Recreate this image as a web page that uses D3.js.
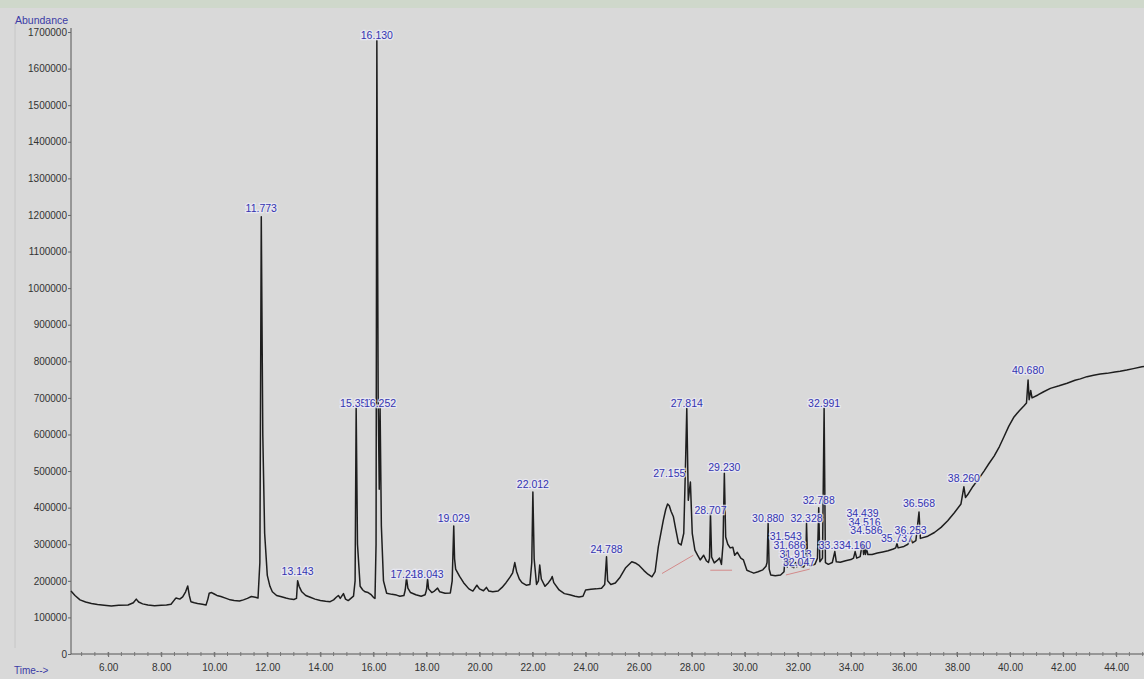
<!DOCTYPE html>
<html>
<head>
<meta charset="utf-8">
<script src="https://cdn.jsdelivr.net/npm/d3@7"></script>
<style>
  body { margin: 0; background: #d9d9d9; }
  svg { display: block; font-family: "Liberation Sans", Arial, sans-serif; }
</style>
</head>
<body>
<svg id="chart" width="1144" height="679"></svg>
<script>
// total ion chromatogram: [time (min), abundance]
const tic = [
  [4.60, 172000], [4.75, 160000], [4.94, 148000], [5.15, 142000], [5.37, 138000],
  [5.60, 135000], [5.85, 133000], [6.12, 131000], [6.40, 133000], [6.75, 134000],
  [6.95, 140000], [7.06, 150000], [7.15, 142000], [7.30, 137000], [7.50, 134000],
  [7.75, 132000], [8.00, 133000], [8.20, 134000], [8.37, 136000], [8.50, 148000],
  [8.56, 153000], [8.70, 150000], [8.81, 156000], [8.92, 170000], [9.00, 186000],
  [9.06, 160000], [9.12, 143000], [9.25, 140000], [9.37, 138000], [9.55, 136000],
  [9.69, 134000], [9.76, 150000], [9.81, 166000], [9.90, 168000], [10.00, 164000],
  [10.10, 160000], [10.25, 157000], [10.45, 152000], [10.60, 148000], [10.75, 146000],
  [10.95, 145000], [11.10, 148000], [11.25, 152000], [11.40, 157000], [11.55, 155000],
  [11.65, 153000], [11.72, 250000], [11.773, 1195000], [11.83, 600000], [11.90, 330000],
  [12.00, 215000], [12.10, 185000], [12.19, 170000], [12.35, 160000], [12.50, 157000],
  [12.70, 153000], [12.87, 150000], [13.00, 149000], [13.10, 152000], [13.143, 200000],
  [13.20, 185000], [13.30, 170000], [13.45, 160000], [13.62, 155000], [13.80, 150000],
  [14.00, 146000], [14.20, 144000], [14.37, 143000], [14.50, 148000], [14.60, 155000],
  [14.68, 160000], [14.75, 152000], [14.87, 165000], [14.95, 150000], [15.05, 146000],
  [15.15, 152000], [15.25, 158000], [15.31, 200000], [15.35, 672000], [15.40, 300000],
  [15.50, 185000], [15.60, 175000], [15.69, 170000], [15.80, 168000], [15.90, 163000],
  [16.00, 155000], [16.06, 152000], [16.10, 300000], [16.13, 1677000], [16.18, 700000],
  [16.22, 450000], [16.252, 672000], [16.30, 350000], [16.38, 200000], [16.50, 166000],
  [16.70, 163000], [16.87, 161000], [17.00, 158000], [17.15, 160000], [17.20, 175000],
  [17.248, 208000], [17.30, 180000], [17.40, 168000], [17.60, 162000], [17.80, 158000],
  [17.95, 162000], [18.00, 175000], [18.043, 205000], [18.08, 178000], [18.20, 168000],
  [18.30, 172000], [18.42, 180000], [18.50, 170000], [18.70, 166000], [18.90, 167000],
  [18.97, 200000], [19.029, 350000], [19.06, 260000], [19.10, 232000], [19.25, 212000],
  [19.40, 195000], [19.60, 178000], [19.75, 172000], [19.90, 188000], [20.00, 178000],
  [20.15, 173000], [20.26, 182000], [20.35, 172000], [20.50, 170000], [20.70, 172000],
  [20.85, 182000], [21.00, 195000], [21.15, 210000], [21.25, 222000], [21.33, 250000],
  [21.40, 225000], [21.50, 205000], [21.60, 195000], [21.76, 188000], [21.90, 190000],
  [21.97, 250000], [22.012, 443000], [22.06, 260000], [22.15, 190000], [22.22, 200000],
  [22.27, 243000], [22.33, 205000], [22.47, 185000], [22.60, 195000], [22.70, 205000],
  [22.74, 212000], [22.80, 195000], [23.00, 175000], [23.20, 165000], [23.40, 162000],
  [23.60, 158000], [23.75, 156000], [23.90, 158000], [24.00, 175000], [24.20, 177000],
  [24.40, 178000], [24.60, 180000], [24.72, 190000], [24.788, 266000], [24.83, 200000],
  [24.95, 190000], [25.12, 194000], [25.30, 210000], [25.50, 235000], [25.74, 252000],
  [25.90, 248000], [26.00, 243000], [26.20, 228000], [26.35, 218000], [26.50, 211000],
  [26.62, 225000], [26.74, 293000], [26.85, 335000], [26.93, 366000], [27.02, 395000],
  [27.09, 410000], [27.155, 405000], [27.22, 390000], [27.31, 375000], [27.40, 340000],
  [27.50, 303000], [27.60, 298000], [27.70, 330000], [27.76, 500000], [27.814, 671000],
  [27.87, 420000], [27.95, 470000], [28.02, 330000], [28.12, 284000], [28.22, 270000],
  [28.32, 257000], [28.45, 270000], [28.55, 255000], [28.63, 250000], [28.67, 262000],
  [28.707, 385000], [28.75, 265000], [28.85, 249000], [28.95, 255000], [29.05, 262000],
  [29.12, 245000], [29.18, 300000], [29.23, 494000], [29.28, 320000], [29.36, 300000],
  [29.45, 290000], [29.55, 292000], [29.62, 270000], [29.72, 278000], [29.85, 262000],
  [29.95, 257000], [30.08, 229000], [30.20, 225000], [30.34, 221000], [30.50, 225000],
  [30.68, 230000], [30.80, 240000], [30.84, 250000], [30.88, 357000], [30.92, 232000],
  [30.98, 216000], [31.15, 214000], [31.35, 216000], [31.48, 225000], [31.543, 290000],
  [31.60, 238000], [31.65, 250000], [31.686, 265000], [31.73, 240000], [31.85, 236000],
  [31.913, 250000], [31.96, 238000], [32.047, 258000], [32.10, 240000], [32.22, 238000],
  [32.30, 250000], [32.328, 358000], [32.37, 245000], [32.50, 240000], [32.65, 246000],
  [32.74, 262000], [32.788, 400000], [32.83, 252000], [32.93, 262000], [32.991, 672000],
  [33.04, 250000], [33.15, 245000], [33.30, 250000], [33.394, 280000], [33.45, 252000],
  [33.60, 251000], [33.80, 255000], [34.00, 258000], [34.10, 262000], [34.16, 280000],
  [34.22, 262000], [34.35, 266000], [34.439, 305000], [34.48, 272000], [34.516, 295000],
  [34.55, 272000], [34.586, 290000], [34.64, 272000], [34.80, 272000], [35.00, 276000],
  [35.20, 279000], [35.40, 282000], [35.60, 287000], [35.69, 290000], [35.737, 302000],
  [35.78, 290000], [36.00, 294000], [36.15, 300000], [36.253, 316000], [36.32, 304000],
  [36.45, 310000], [36.568, 388000], [36.62, 316000], [36.90, 322000], [37.15, 332000],
  [37.40, 346000], [37.65, 364000], [37.90, 386000], [38.15, 410000], [38.26, 457000],
  [38.32, 428000], [38.40, 435000], [38.60, 458000], [38.85, 482000], [39.02, 500000],
  [39.20, 520000], [39.40, 541000], [39.60, 567000], [39.78, 595000], [39.95, 622000],
  [40.15, 648000], [40.35, 665000], [40.52, 678000], [40.62, 686000], [40.68, 749000],
  [40.72, 695000], [40.78, 720000], [40.83, 700000], [41.05, 708000], [41.25, 716000],
  [41.52, 726000], [41.85, 733000], [42.15, 740000], [42.45, 748000], [42.65, 752000],
  [42.90, 758000], [43.15, 762000], [43.40, 765000], [43.65, 767000], [43.95, 771000],
  [44.15, 773000], [44.40, 776000], [44.65, 780000], [44.97, 785000], [45.05, 786000]
];

// peak labels: retention time text and the height of the label
const peakRT = ["11.773", "13.143", "15.350", "16.130", "16.252", "17.248", "18.043",
  "19.029", "22.012", "24.788", "27.155", "27.814", "28.707", "29.230", "30.880",
  "31.543", "31.686", "31.913", "32.047", "32.328", "32.788", "32.991", "33.394",
  "34.160", "34.439", "34.516", "34.586", "35.737", "36.253", "36.568", "38.260", "40.680"];
const labelLevel = [1218000, 227000, 687000, 1691000, 687000, 220000, 220000,
  372000, 464000, 286000, 495000, 687000, 393000, 512000, 373000,
  322000, 298000, 274000, 252000, 371000, 421000, 687000, 298000,
  298000, 385000, 362000, 339000, 316000, 339000, 412000, 480000, 776000];

// integration baselines (red): [t1, a1, t2, a2]
const baselines = [
  [26.88, 220000, 28.06, 270000],
  [28.70, 229000, 29.52, 229000],
  [31.55, 216000, 32.45, 232000]
];

const yTicks = d3.range(0, 1700001, 100000);
const xTicks = d3.range(6, 44.1, 2);
const xMinor = d3.range(5, 45.01, 0.5);

const svg = d3.select("#chart");
const W = 1144, H = 679;

svg.append("rect").attr("width", W).attr("height", H).attr("fill", "#d9d9d9");
svg.append("rect").attr("width", W).attr("height", 8).attr("fill", "#cfd8cb");
svg.append("line").attr("x1", 15).attr("x2", 15).attr("y1", 22).attr("y2", 648)
  .attr("stroke", "#c6c6c6");

const x = d3.scaleLinear().domain([4.6, 45.05]).range([71, 1144]);
const y = d3.scaleLinear().domain([0, 1700000]).range([654, 32]);

// axes
const yAxis = svg.append("g")
  .attr("transform", "translate(71,0)")
  .call(d3.axisLeft(y).tickValues(yTicks).tickFormat(d3.format("d")).tickSize(3).tickPadding(1));
yAxis.select(".domain").attr("d", "M0,28V654").attr("stroke", "#555");
yAxis.selectAll(".tick line").attr("stroke", "#666");
yAxis.selectAll("text").attr("font-size", 10).attr("fill", "#333");

const xAxis = svg.append("g")
  .attr("transform", "translate(0,654)")
  .call(d3.axisBottom(x).tickValues(xTicks).tickFormat(d3.format(".2f")).tickSize(3).tickPadding(7));
xAxis.select(".domain").attr("d", "M71,0H1144").attr("stroke", "#555");
xAxis.selectAll(".tick line").attr("stroke", "#666").attr("y1", -2);
xAxis.selectAll("text").attr("font-size", 10).attr("fill", "#333");

svg.append("g").selectAll("line")
  .data(xMinor)
  .join("line")
  .attr("x1", d => x(d)).attr("x2", d => x(d))
  .attr("y1", 652).attr("y2", 656)
  .attr("stroke", "#777");

svg.append("text").attr("x", 15).attr("y", 24).text("Abundance")
  .attr("font-size", 10.5).attr("fill", "#3b3ba6");
svg.append("text").attr("x", 14).attr("y", 674).text("Time-->")
  .attr("font-size", 10).attr("fill", "#3b3ba6");

// red integration baselines
svg.append("g").selectAll("line")
  .data(baselines)
  .join("line")
  .attr("x1", d => x(d[0])).attr("y1", d => y(d[1]))
  .attr("x2", d => x(d[2])).attr("y2", d => y(d[3]))
  .attr("stroke", "#d38a8a").attr("stroke-width", 1);

// chromatogram trace
const line = d3.line().x(d => x(d[0])).y(d => y(d[1]));
svg.append("path")
  .datum(tic)
  .attr("d", line)
  .attr("fill", "none")
  .attr("stroke", "#1e1e1e")
  .attr("stroke-width", 1.5)
  .attr("stroke-linejoin", "round");

// peak labels
svg.append("g").selectAll("text")
  .data(peakRT)
  .join("text")
  .attr("x", d => x(+d))
  .attr("y", (d, i) => y(labelLevel[i]) + 4)
  .attr("text-anchor", "middle")
  .attr("font-size", 10.5)
  .attr("fill", "#3434b0")
  .attr("stroke", "rgba(236,236,246,0.8)")
  .attr("stroke-width", 2.5)
  .attr("paint-order", "stroke")
  .text(d => d);
</script>
</body>
</html>
